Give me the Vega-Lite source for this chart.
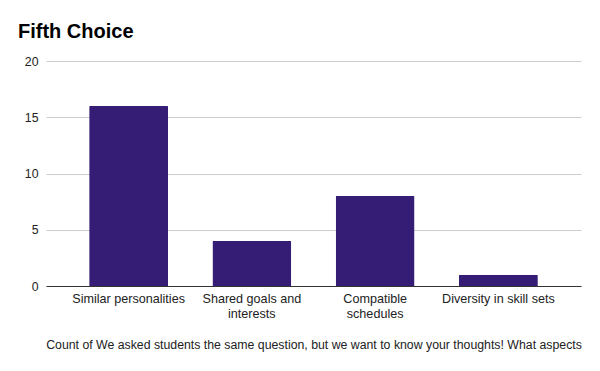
{
  "$schema": "https://vega.github.io/schema/vega-lite/v6.json",
  "width": 535,
  "height": 225,
  "autosize": {"type": "none"},
  "padding": {"left": 46, "top": 61, "right": 19, "bottom": 85},
  "background": "white",
  "title": {
    "text": "Fifth Choice",
    "anchor": "start",
    "frame": "group",
    "dx": -28,
    "offset": 13,
    "font": "Liberation Sans",
    "fontSize": 20,
    "fontWeight": "bold",
    "color": "#000000"
  },
  "data": {
    "values": [
      {"choice": "Similar personalities", "count": 16},
      {"choice": "Shared goals and interests", "count": 4},
      {"choice": "Compatible schedules", "count": 8},
      {"choice": "Diversity in skill sets", "count": 1}
    ]
  },
  "mark": {"type": "bar", "color": "#351c75", "cornerRadiusTopLeft": 1, "cornerRadiusTopRight": 1},
  "encoding": {
    "x": {
      "field": "choice",
      "type": "nominal",
      "sort": null,
      "scale": {"paddingInner": 0.36, "paddingOuter": 0.35},
      "axis": {
        "title": "Count of We asked students the same question, but we want to know your thoughts! What aspects",
        "titleFont": "Liberation Sans",
        "titleFontSize": 12.3,
        "titleFontWeight": "normal",
        "titleColor": "#222222",
        "titlePadding": 19,
        "labelAngle": 0,
        "labelFont": "Liberation Sans",
        "labelFontSize": 12.6,
        "labelColor": "#222222",
        "labelPadding": 6,
        "labelLineHeight": 15,
        "labelExpr": "datum.label == 'Shared goals and interests' ? ['Shared goals and', 'interests'] : datum.label == 'Compatible schedules' ? ['Compatible', 'schedules'] : datum.label",
        "ticks": false,
        "domainColor": "#333333",
        "domainWidth": 1
      }
    },
    "y": {
      "field": "count",
      "type": "quantitative",
      "scale": {"domain": [0, 20]},
      "axis": {
        "title": null,
        "values": [0, 5, 10, 15, 20],
        "labelFont": "Liberation Sans",
        "labelFontSize": 12.3,
        "labelColor": "#222222",
        "labelPadding": 8,
        "ticks": false,
        "domain": false,
        "gridColor": "#cccccc",
        "gridWidth": 1
      }
    }
  },
  "config": {"view": {"stroke": null}}
}
